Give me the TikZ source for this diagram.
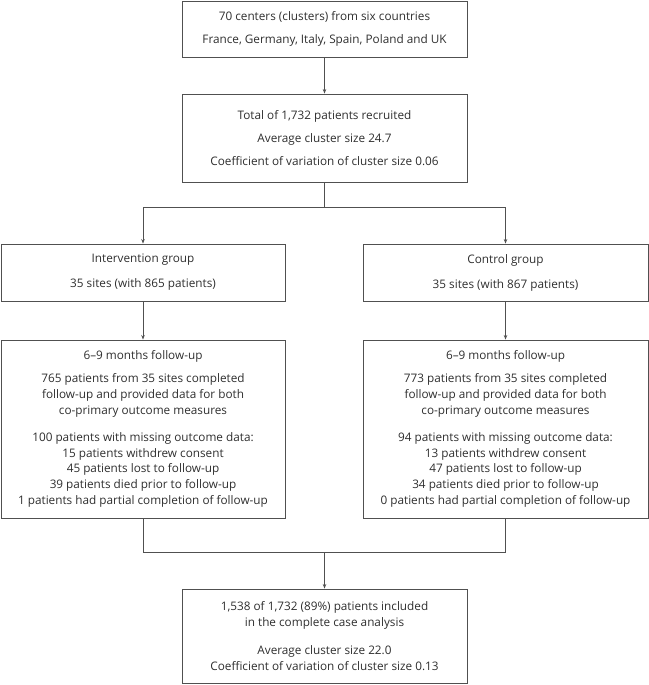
\documentclass[tikz,border=0pt]{standalone}
\usepackage{fontspec}
\setmainfont{Open Sans}
\usetikzlibrary{arrows.meta}
\definecolor{linec}{HTML}{505050}
\definecolor{textc}{HTML}{2E2E2E}
\begin{document}
\begin{tikzpicture}[x=1bp,y=-1bp,
  box/.style={draw=linec,line width=0.9bp,inner sep=0pt,align=center,text=textc,
    font=\fontsize{11.8}{16}\selectfont},
  conn/.style={draw=linec,line width=0.9bp},
  arr/.style={conn,-{Stealth[length=4.5bp,width=3.5bp]}}]
\useasboundingbox (0,0) rectangle (649,685);
\node[box,minimum width=285bp,minimum height=56bp] (b1) at (324.5,29)
  {70 centers (clusters) from six countries\\[7bp]France, Germany, Italy, Spain, Poland and UK};
\node[box,minimum width=285bp,minimum height=88bp] (b2) at (324.5,138)
  {Total of 1,732 patients recruited\\[7bp]Average cluster size 24.7\\[7bp]Coefficient of variation of cluster size 0.06};
\node[box,minimum width=284bp,minimum height=57bp] (b3l) at (143,272.5)
  {Intervention group\\[9bp]35 sites (with 865 patients)};
\node[box,minimum width=285bp,minimum height=57bp] (b3r) at (505.5,272.5)
  {Control group\\[9bp]35 sites (with 867 patients)};
\node[box,minimum width=284bp,minimum height=178bp] (b4l) at (143,429)
  {6–9 months follow-up\\[7bp]765 patients from 35 sites completed\\follow-up and provided data for both\\co-primary outcome measures\\[11bp]100 patients with missing outcome data:\\15 patients withdrew consent\\45 patients lost to follow-up\\39 patients died prior to follow-up\\1 patients had partial completion of follow-up};
\node[box,minimum width=285bp,minimum height=178bp] (b4r) at (505.5,429)
  {6–9 months follow-up\\[7bp]773 patients from 35 sites completed\\follow-up and provided data for both\\co-primary outcome measures\\[11bp]94 patients with missing outcome data:\\13 patients withdrew consent\\47 patients lost to follow-up\\34 patients died prior to follow-up\\0 patients had partial completion of follow-up};
\node[box,minimum width=285bp,minimum height=94bp] (b5) at (324.5,636)
  {1,538 of 1,732 (89\%) patients included\\in the complete case analysis\\[12bp]Average cluster size 22.0\\Coefficient of variation of cluster size 0.13};
\coordinate (j1) at (324.5,207);
\coordinate (j2) at (324.5,552);
\draw[arr] (b1.south) -- (b2.north);
\draw[conn] (b2.south) -- (j1);
\draw[arr] (j1) -| (b3l.north);
\draw[arr] (j1) -| (b3r.north);
\draw[arr] (b3l.south) -- (b4l.north);
\draw[arr] (b3r.south) -- (b4r.north);
\draw[conn] (b4l.south) |- (j2);
\draw[conn] (b4r.south) |- (j2);
\draw[arr] (j2) -- (b5.north);
\end{tikzpicture}
\end{document}
